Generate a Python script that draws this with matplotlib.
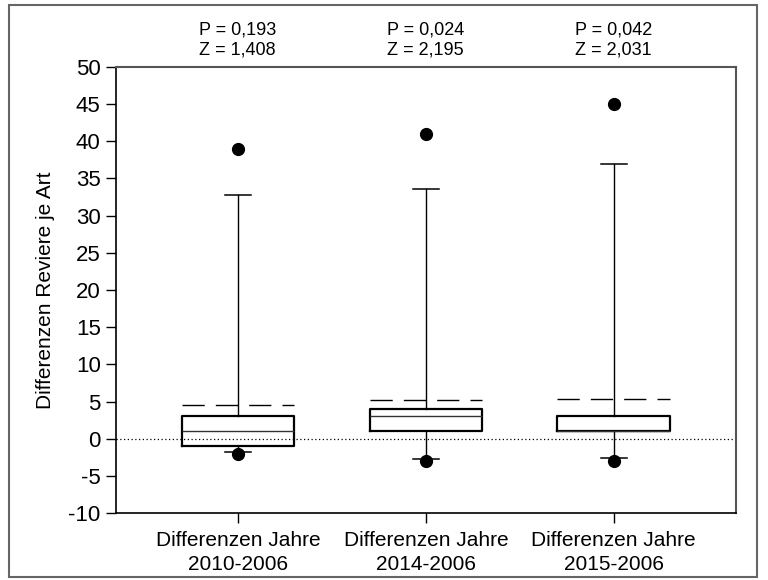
import matplotlib.pyplot as plt
from matplotlib.patches import Rectangle

plt.rcParams['font.family'] = ['Liberation Sans', 'DejaVu Sans']
plt.rcParams['axes.unicode_minus'] = False

# values
labels = ['Differenzen Jahre\n2010-2006', 'Differenzen Jahre\n2014-2006', 'Differenzen Jahre\n2015-2006']
q1 = [-1, 1, 1]
medians = [1, 3, 1]
q3 = [3, 4, 3]
means = [4.5, 5.2, 5.3]
whis_lo = [-1.8, -2.7, -2.6]
whis_hi = [32.8, 33.6, 37.0]
fliers = [[39, -2], [41, -3], [45, -3]]
p_values = ['0,193', '0,024', '0,042']
z_values = ['1,408', '2,195', '2,031']

stats = []
for i in range(len(labels)):
    stats.append(dict(q1=q1[i], med=medians[i], q3=q3[i], mean=means[i],
                      whislo=whis_lo[i], whishi=whis_hi[i], fliers=fliers[i]))

fig = plt.figure(figsize=(7.68, 5.8), dpi=100)
ax = fig.add_axes([0.151, 0.1155, 0.807, 0.769])

pos = [1, 2, 3]
ax.axhline(0, color='black', lw=0.9, linestyle=(0, (1, 2)), zorder=1)
ax.bxp(stats, positions=pos, widths=0.6, capwidths=0.14,
       showmeans=True, meanline=True,
       boxprops=dict(color='black', lw=1.6),
       medianprops=dict(color='#333333', lw=1.0),
       whiskerprops=dict(color='black', lw=1.0),
       capprops=dict(color='black', lw=1.1),
       meanprops=dict(color='black', lw=1.0, linestyle=(0, (16, 8))),
       flierprops=dict(marker='o', markerfacecolor='black', markeredgecolor='black',
                       markersize=8.5, linestyle='none'))

ax.set_xlim(0.35, 3.65)
ax.set_ylim(-10, 50)
ax.set_yticks(range(-10, 51, 5))
ax.set_xticks(pos)
ax.set_xticklabels(labels, fontsize=15, linespacing=1.35)
ax.tick_params(axis='y', labelsize=16, length=7, width=1, pad=4)
ax.tick_params(axis='x', length=7, width=1, pad=6)
ax.set_ylabel('Differenzen Reviere je Art', fontsize=15, labelpad=10)

for side in ['top', 'right']:
    ax.spines[side].set_color('#555555')
    ax.spines[side].set_linewidth(1.5)
for side in ['left', 'bottom']:
    ax.spines[side].set_linewidth(1.2)

for x, p, z in zip(pos, p_values, z_values):
    ax.annotate(f'P = {p}\nZ = {z}', xy=(x, 1), xycoords=('data', 'axes fraction'),
                xytext=(0, 6), textcoords='offset points',
                ha='center', va='bottom', fontsize=13, multialignment='left',
                linespacing=1.25)

# outer frame around the figure
fig.patches.append(Rectangle((9 / 768, 3 / 580), 748 / 768, 572 / 580,
                             transform=fig.transFigure, fill=False,
                             edgecolor='#666666', lw=1.5))

fig.savefig('out.png', dpi=100)
